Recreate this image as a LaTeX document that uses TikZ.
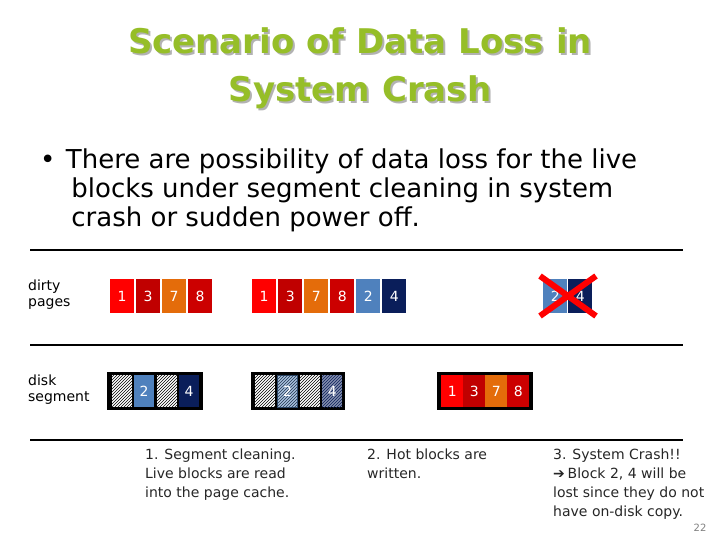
\documentclass[tikz,border=0pt]{standalone}
\usepackage{fontspec}
\setmainfont{DejaVu Sans}
\usetikzlibrary{patterns}
\definecolor{tgreen}{RGB}{150,190,40}
\definecolor{cA}{RGB}{255,0,0}
\definecolor{cB}{RGB}{192,0,0}
\definecolor{cC}{RGB}{228,108,10}
\definecolor{cD}{RGB}{204,0,0}
\definecolor{cE}{RGB}{79,129,189}
\definecolor{cF}{RGB}{10,30,90}
\begin{document}
\begin{tikzpicture}[x=1pt,y=-1pt,
  blk/.style={minimum width=24pt,minimum height=34pt,inner sep=0pt,text=white,font=\fontsize{14}{14}\selectfont,anchor=north west},
  dblk/.style={minimum width=20pt,minimum height=32pt,inner sep=0pt,text=white,font=\fontsize{14}{14}\selectfont,anchor=north west},
  hat/.style={dblk,fill=white,postaction={pattern=north east lines}},
  sep/.style={line width=2.5pt},
  lbl/.style={font=\fontsize{14}{16}\selectfont,align=left,anchor=north west,inner sep=0pt},
  captxt/.style={font=\fontsize{14}{19}\selectfont,align=left,anchor=north west,inner sep=0pt,text=black!85}]
\useasboundingbox (0,0) rectangle (720,540);
\node (title)[font=\bfseries\fontsize{34}{48}\selectfont,text=tgreen,align=center] at (360,69) {\rlap{\kern2pt\raisebox{-2pt}{\textcolor{gray!60}{Scenario of Data Loss in}}}Scenario of Data Loss in\\\rlap{\kern2pt\raisebox{-2pt}{\textcolor{gray!60}{System Crash}}}System Crash};
\node (bul)[font=\fontsize{26}{29}\selectfont,align=left,anchor=north west,inner sep=0pt] at (40,149) {•\hspace{0.4em}There are possibility of data loss for the live\\\hspace{1.2em}blocks under segment cleaning in system\\\hspace{1.2em}crash or sudden power off.};
\coordinate (l1a) at (30,250); \coordinate (l1b) at (683,250);
\coordinate (l2a) at (30,345); \coordinate (l2b) at (683,345);
\coordinate (l3a) at (30,440); \coordinate (l3b) at (683,440);
\draw[sep] (l1a)--(l1b); \draw[sep] (l2a)--(l2b); \draw[sep] (l3a)--(l3b);
\node (dp)[lbl] at (28,280) {dirty\\pages};
\node (ds)[lbl] at (28,375) {disk\\segment};
\foreach \x/\c/\t [count=\i] in {110/cA/1,136/cB/3,162/cC/7,188/cD/8}{\node(a\i)[blk,fill=\c] at (\x,279) {\t};}
\foreach \x/\c/\t [count=\i] in {252/cA/1,278/cB/3,304/cC/7,330/cD/8,356/cE/2,382/cF/4}{\node(b\i)[blk,fill=\c] at (\x,279) {\t};}
\node(c1)[blk,fill=cE] at (543,279) {2};
\node(c2)[blk,fill=cF] at (568,279) {4};
\draw[cA,line width=6pt] (540,276)--(596,316) (540,316)--(596,276);
\fill[black] (107,372) rectangle (203,410);
\node(d1)[hat] at (112,375) {}; \node(d2)[dblk,fill=cE] at (134,375) {2};
\node(d3)[hat] at (157,375) {}; \node(d4)[dblk,fill=cF] at (179,375) {4};
\fill[black] (251,372) rectangle (345,410);
\node(e1)[hat] at (255,375) {};
\node(e2)[dblk,fill=cE!50,draw=cE!60!black,line width=1pt] at (277,375) {};
\fill[pattern=north east lines,pattern color=cE!40!black] (277,375) rectangle (297,407);
\node(e3)[hat] at (300,375) {};
\node(e4)[dblk,fill=cF!50] at (322,375) {};
\fill[pattern=north east lines,pattern color=cF] (322,375) rectangle (342,407);
\node at (e2.center) [text=white,font=\fontsize{14}{14}\selectfont] {2};
\node at (e4.center) [text=white,font=\fontsize{14}{14}\selectfont] {4};
\fill[black] (437,372) rectangle (533,410);
\foreach \x/\c/\t [count=\i] in {441/cA/1,463/cB/3,485/cC/7,507/cD/8}{\node(f\i)[dblk,minimum width=22pt,fill=\c] at (\x,375) {\t};}
\node(k1)[captxt] at (145,449) {1. Segment cleaning.\\Live blocks are read\\into the page cache.};
\node(k2)[captxt] at (367,449) {2. Hot blocks are\\written.};
\node(k3)[captxt] at (553,449) {3. System Crash!!\\{\fontspec{DejaVu Sans}➔}\hspace{0.2em}Block 2, 4 will be\\lost since they do not\\have on-disk copy.};
\node[font=\fontsize{10}{10}\selectfont,text=gray] at (700,528) {22};
\end{tikzpicture}
\end{document}
